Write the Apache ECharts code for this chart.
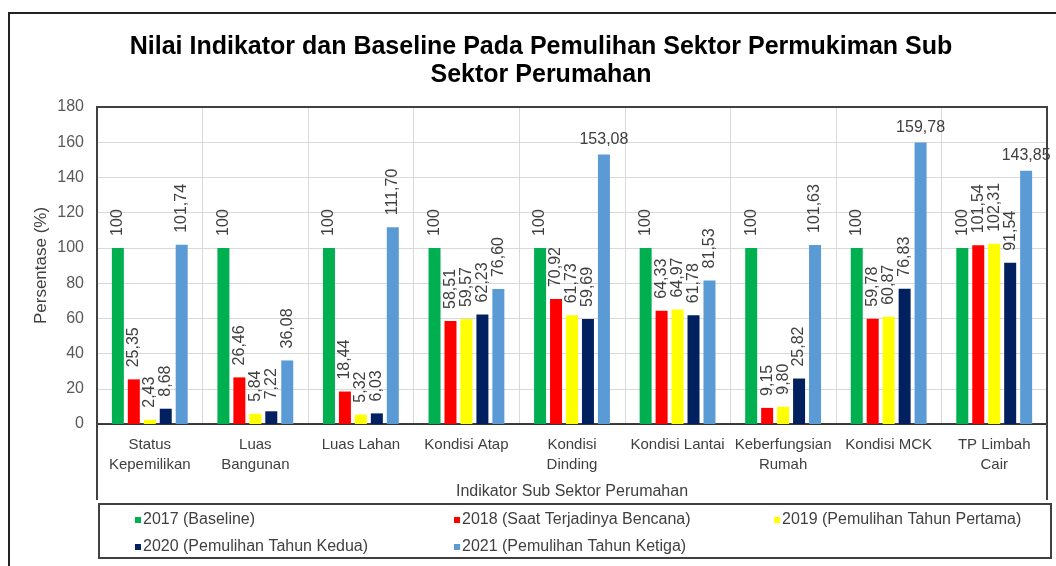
<!DOCTYPE html>
<html>
<head>
<meta charset="utf-8">
<script src="https://cdn.jsdelivr.net/npm/echarts@6/dist/echarts.min.js"></script>
<style>
html,body{margin:0;padding:0;background:#fff;}
#c{width:1056px;height:566px;}
</style>
</head>
<body>
<div id="c"></div>
<script>
var categories = ['Status\nKepemilikan','Luas\nBangunan','Luas Lahan','Kondisi Atap','Kondisi\nDinding','Kondisi Lantai','Keberfungsian\nRumah','Kondisi MCK','TP Limbah\nCair'];
var seriesNames = ['2017 (Baseline)','2018 (Saat Terjadinya Bencana)','2019 (Pemulihan Tahun Pertama)','2020 (Pemulihan Tahun Kedua)','2021 (Pemulihan Tahun Ketiga)'];
var v2017 = [100,100,100,100,100,100,100,100,100];
var v2018 = [25.35,26.46,18.44,58.51,70.92,64.33,9.15,59.78,101.54];
var v2019 = [2.43,5.84,5.32,59.57,61.73,64.97,9.80,60.87,102.31];
var v2020 = [8.68,7.22,6.03,62.23,59.69,61.78,25.82,76.83,91.54];
var v2021 = [101.74,36.08,111.70,76.60,153.08,81.53,101.63,159.78,143.85];
var yTicks = {min:0, max:180, interval:20};

var colors = ['#00B050','#FF0000','#FFFF00','#002060','#5B9BD5'];
var allValues = [v2017,v2018,v2019,v2020,v2021];
var FONT = 'Liberation Sans, Arial, sans-serif';

function fmt(v){ return v === 100 ? '100' : v.toFixed(2).replace('.', ','); }

var series = allValues.map(function(arr, si){
  return {
    name: seriesNames[si],
    type: 'bar',
    barWidth: 12,
    barGap: '33%',
    itemStyle: {color: colors[si]},
    label: {
      show: true, position: 'top', rotate: 90, align: 'left', verticalAlign: 'middle',
      distance: 12, color: '#404040', fontSize: 16, fontFamily: FONT,
      formatter: function(p){ return fmt(p.value); }
    },
    data: arr.map(function(v){
      if (si === 4 && v > 140) {
        return {value: v, label: {rotate: 0, align: 'center', verticalAlign: 'bottom', distance: 7}};
      }
      return v;
    })
  };
});

var legendPos = [[130,507],[449,507],[769,507],[130,534],[449,534]];
var legends = seriesNames.map(function(n, i){
  return {
    data: [n], left: legendPos[i][0], top: legendPos[i][1],
    icon: 'rect', itemWidth: 6, itemHeight: 6, itemGap: 0,
    textStyle: {color: '#404040', fontSize: 16, fontFamily: FONT, padding: [0,0,0,-3]},
    selectedMode: false
  };
});

var chart = echarts.init(document.getElementById('c'));
chart.setOption({
  animation: false,
  color: colors,
  title: {
    text: 'Nilai Indikator dan Baseline Pada Pemulihan Sektor Permukiman Sub\nSektor Perumahan',
    left: 536, textAlign: 'center', top: 28,
    textStyle: {fontSize: 25, fontWeight: 'bold', color: '#000', lineHeight: 28, fontFamily: FONT}
  },
  legend: legends,
  grid: {left: 97, right: 9, top: 107, bottom: 142, containLabel: false},
  xAxis: {
    type: 'category', data: categories,
    name: 'Indikator Sub Sektor Perumahan', nameLocation: 'middle', nameGap: 60,
    nameMoveOverlap: false,
    nameTextStyle: {color: '#404040', fontSize: 16, fontFamily: FONT},
    axisLine: {lineStyle: {color: '#000', width: 1.5}},
    axisTick: {show: false},
    axisLabel: {interval: 0, color: '#404040', fontSize: 15, lineHeight: 20, margin: 11, fontFamily: FONT},
    splitLine: {show: true, lineStyle: {color: '#d9d9d9', width: 1}}
  },
  yAxis: {
    type: 'value', min: yTicks.min, max: yTicks.max, interval: yTicks.interval,
    name: 'Persentase (%)', nameLocation: 'middle', nameGap: 47, nameRotate: 90,
    nameMoveOverlap: false,
    nameTextStyle: {color: '#404040', fontSize: 17, fontFamily: FONT},
    axisLine: {show: false}, axisTick: {show: false},
    axisLabel: {color: '#595959', fontSize: 16, margin: 13, fontFamily: FONT},
    splitLine: {lineStyle: {color: '#d9d9d9', width: 1}}
  },
  graphic: [
    {type: 'rect', shape: {x: 9, y: 13, width: 1060, height: 570}, style: {fill: 'none', stroke: '#222', lineWidth: 2}, silent: true},
    {type: 'polyline', shape: {points: [[97,500],[97,107],[1047,107],[1047,500]]}, style: {fill: 'none', stroke: '#404040', lineWidth: 2}, silent: true, z: 10},
    {type: 'rect', shape: {x: 99, y: 504, width: 952, height: 54}, style: {fill: 'none', stroke: '#404040', lineWidth: 2}, silent: true}
  ],
  series: series
});
</script>
</body>
</html>
